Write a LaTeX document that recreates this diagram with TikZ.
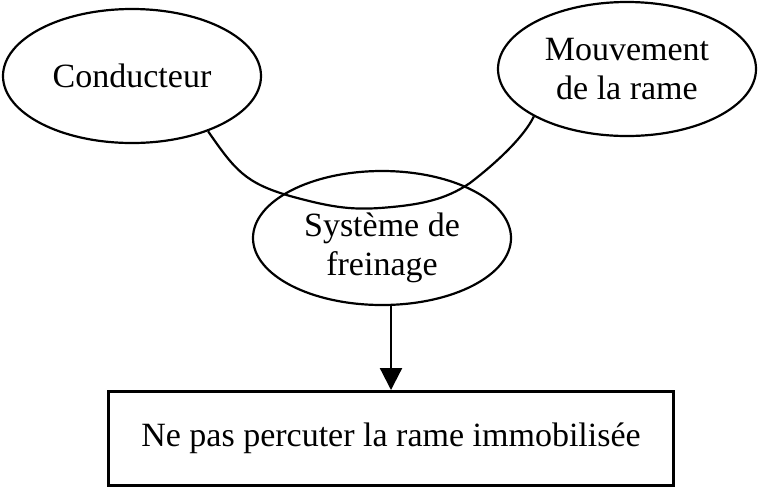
\documentclass[tikz,border=0pt]{standalone}
\usepackage{fontspec}
\setmainfont{Liberation Serif}
\usetikzlibrary{shapes.geometric, arrows.meta}

\tikzset{
  bubble/.style={ellipse, draw, line width=1.1pt, inner sep=0pt,
    minimum width=129pt, minimum height=67pt, align=center},
  goalbox/.style={rectangle, draw, line width=1.5pt, inner sep=0pt,
    minimum width=282.5pt, minimum height=47pt},
  link/.style={line width=1.1pt},
  flow/.style={line width=1.1pt, -{Triangle[width=11pt,length=11pt]}}
}

\begin{document}
\begin{tikzpicture}[x=0.5pt, y=-0.5pt, font=\fontsize{17}{19.5}\selectfont]
\useasboundingbox (0,0) rectangle (759,489);
%
\node[bubble] (cond) at (132,76) {Conducteur};
\node[bubble] (mouv) at (627,69) {Mouvement\\de la rame};
\node[bubble] (frein) at (382,238) {\rule{0pt}{22pt}Syst\`eme de\\freinage};
%
\node[goalbox] (goal) at (391,438.5) {Ne pas percuter la rame immobilis\'ee};
%
\draw[link] (cond.-36) .. controls (235,170) and (245,183) .. (290,196)
  .. controls (330,207) and (350,210) .. (380,208)
  .. controls (420,205) and (445,200) .. (470,183)
  .. controls (500,160) and (525,135) .. (mouv.-153);
%
\draw[flow] (goal.north |- frein.south) -- (goal.north);
\end{tikzpicture}
\end{document}
